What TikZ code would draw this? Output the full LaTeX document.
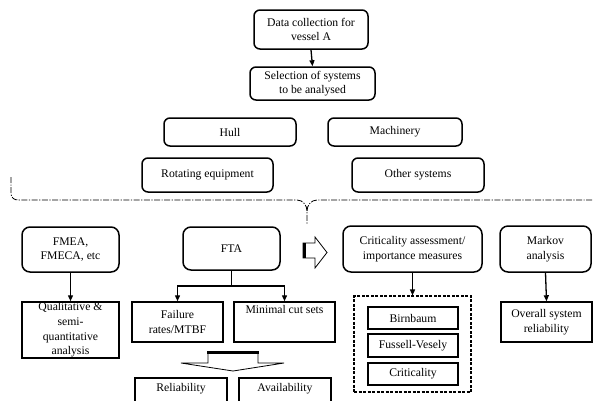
\documentclass[tikz,border=0pt]{standalone}
\usepackage{fontspec}
\setmainfont{Liberation Serif}
\usetikzlibrary{arrows.meta}
\begin{document}
\begin{tikzpicture}[x=1pt,y=-1pt,
  font=\fontsize{11.7}{14.6}\selectfont,
  wh/.style 2 args={minimum width=#1pt,minimum height=#2pt},
  rbox/.style={draw,line width=1.5pt,rounded corners=6pt,align=center,inner sep=0pt},
  sbox/.style={draw,line width=1.5pt,align=center,inner sep=0pt},
  ibox/.style={draw,line width=2pt,align=center,inner sep=0pt},
  dbox/.style={draw,line width=1.1pt,dash pattern=on 3pt off 1.5pt,inner sep=0pt},
  conn/.style={line width=1.3pt,-{Triangle[length=6pt,width=5pt]}},
  link/.style={line width=1.3pt},
  brace/.style={line width=0.8pt,dash pattern=on 6pt off 1.5pt on 1.2pt off 1.5pt},
  blockarrow/.style={draw,line width=0.8pt,fill=white}
]
\useasboundingbox (0,0) rectangle (593,400);

% top of the flow
\node[rbox,wh={114}{39}] (data) at (311,29.5) {Data collection for\\vessel A};
\node[rbox,wh={125}{33}] (sel) at (312.5,83.5) {Selection of systems\\to be analysed};
\node[rbox,wh={132}{28}] (hull) at (230,132) {Hull};
\node[rbox,wh={134}{28}] (mach) at (395,132) {Machinery};
\node[rbox,wh={131}{34}] (rot) at (207.5,175) {Rotating equipment};
\node[rbox,wh={132}{34}] (other) at (418,175) {Other systems};

\draw[conn] (data.south) -- (sel.north);

% dash-dot brace grouping the systems
\draw[brace] (11,177) -- (11,194) to[out=-90,in=180] (18,200) -- (297,200)
  to[out=0,in=90] (307,211) -- (307,225);
\draw[brace] (307,211) to[out=90,in=180] (317,200) -- (593,200);

% analysis methods
\node[rbox,rounded corners=8pt,wh={97}{45}] (fmea) at (70.5,249.5) {FMEA,\\FMECA, etc};
\node[sbox,wh={97}{56}] (qual) at (70.5,330) {Qualitative \&\\semi-\\quantitative\\analysis};
\draw[conn] (fmea.south) -- (qual.north);

\node[rbox,rounded corners=8pt,wh={97}{43}] (fta) at (231.5,248.5) {FTA};
\node[sbox,wh={91}{40}] (fail) at (177.5,322) {Failure\\rates/MTBF};
\node[sbox,wh={101}{40}] (mcs) at (284.5,322) {};
\node[anchor=north,inner sep=0pt] (mcst) at (mcs.north) [yshift=-4pt] {Minimal cut sets};
\coordinate (split) at (231.5,286);
\draw[link] (fta.south) -- (split);
\draw[conn] (split) -| (fail.north);
\draw[conn] (split) -| (mcs.north);

% hollow arrow down to the measures
\draw[blockarrow] (208,352) -- (258,352) -- (258,363) -- (284,363) -- (233,371)
  -- (181,363) -- (208,363) -- cycle;
\draw[line width=3pt] (207,352) -- (259,352);

\node[sbox,wh={92}{32}] (rel) at (181,394) {};
\node[inner sep=0pt] (relt) at (181,389) {Reliability};
\node[sbox,wh={92}{32}] (avail) at (285,394) {};
\node[inner sep=0pt] (availt) at (285,389) {Availability};

% hollow arrow to the importance measures
\draw[blockarrow] (303,243) -- (315,243) -- (315,237) -- (327,252.5) -- (315,268)
  -- (315,258) -- (303,258) -- cycle;
\draw[line width=3pt] (304,243) -- (304,258);

\node[rbox,rounded corners=8pt,wh={139}{46}] (crit) at (412.5,249) {Criticality assessment/\\importance measures};
\node[dbox,wh={117}{96}] (group) at (412.5,344) {};
\node[ibox,wh={90}{22}] (birn) at (413,318) {Birnbaum};
\node[ibox,wh={90}{23}] (fv) at (413,345.5) {Fussell-Vesely};
\node[ibox,wh={90}{22}] (critl) at (413,374) {Criticality};
\draw[conn] (crit.south) -- (group.north);

\node[rbox,rounded corners=8pt,wh={91}{46}] (markov) at (545.5,249) {Markov\\analysis};
\node[sbox,wh={91}{40}] (overall) at (546.5,322) {Overall system\\reliability};
\draw[conn] (markov.south) -- (overall.north);
\end{tikzpicture}
\end{document}
